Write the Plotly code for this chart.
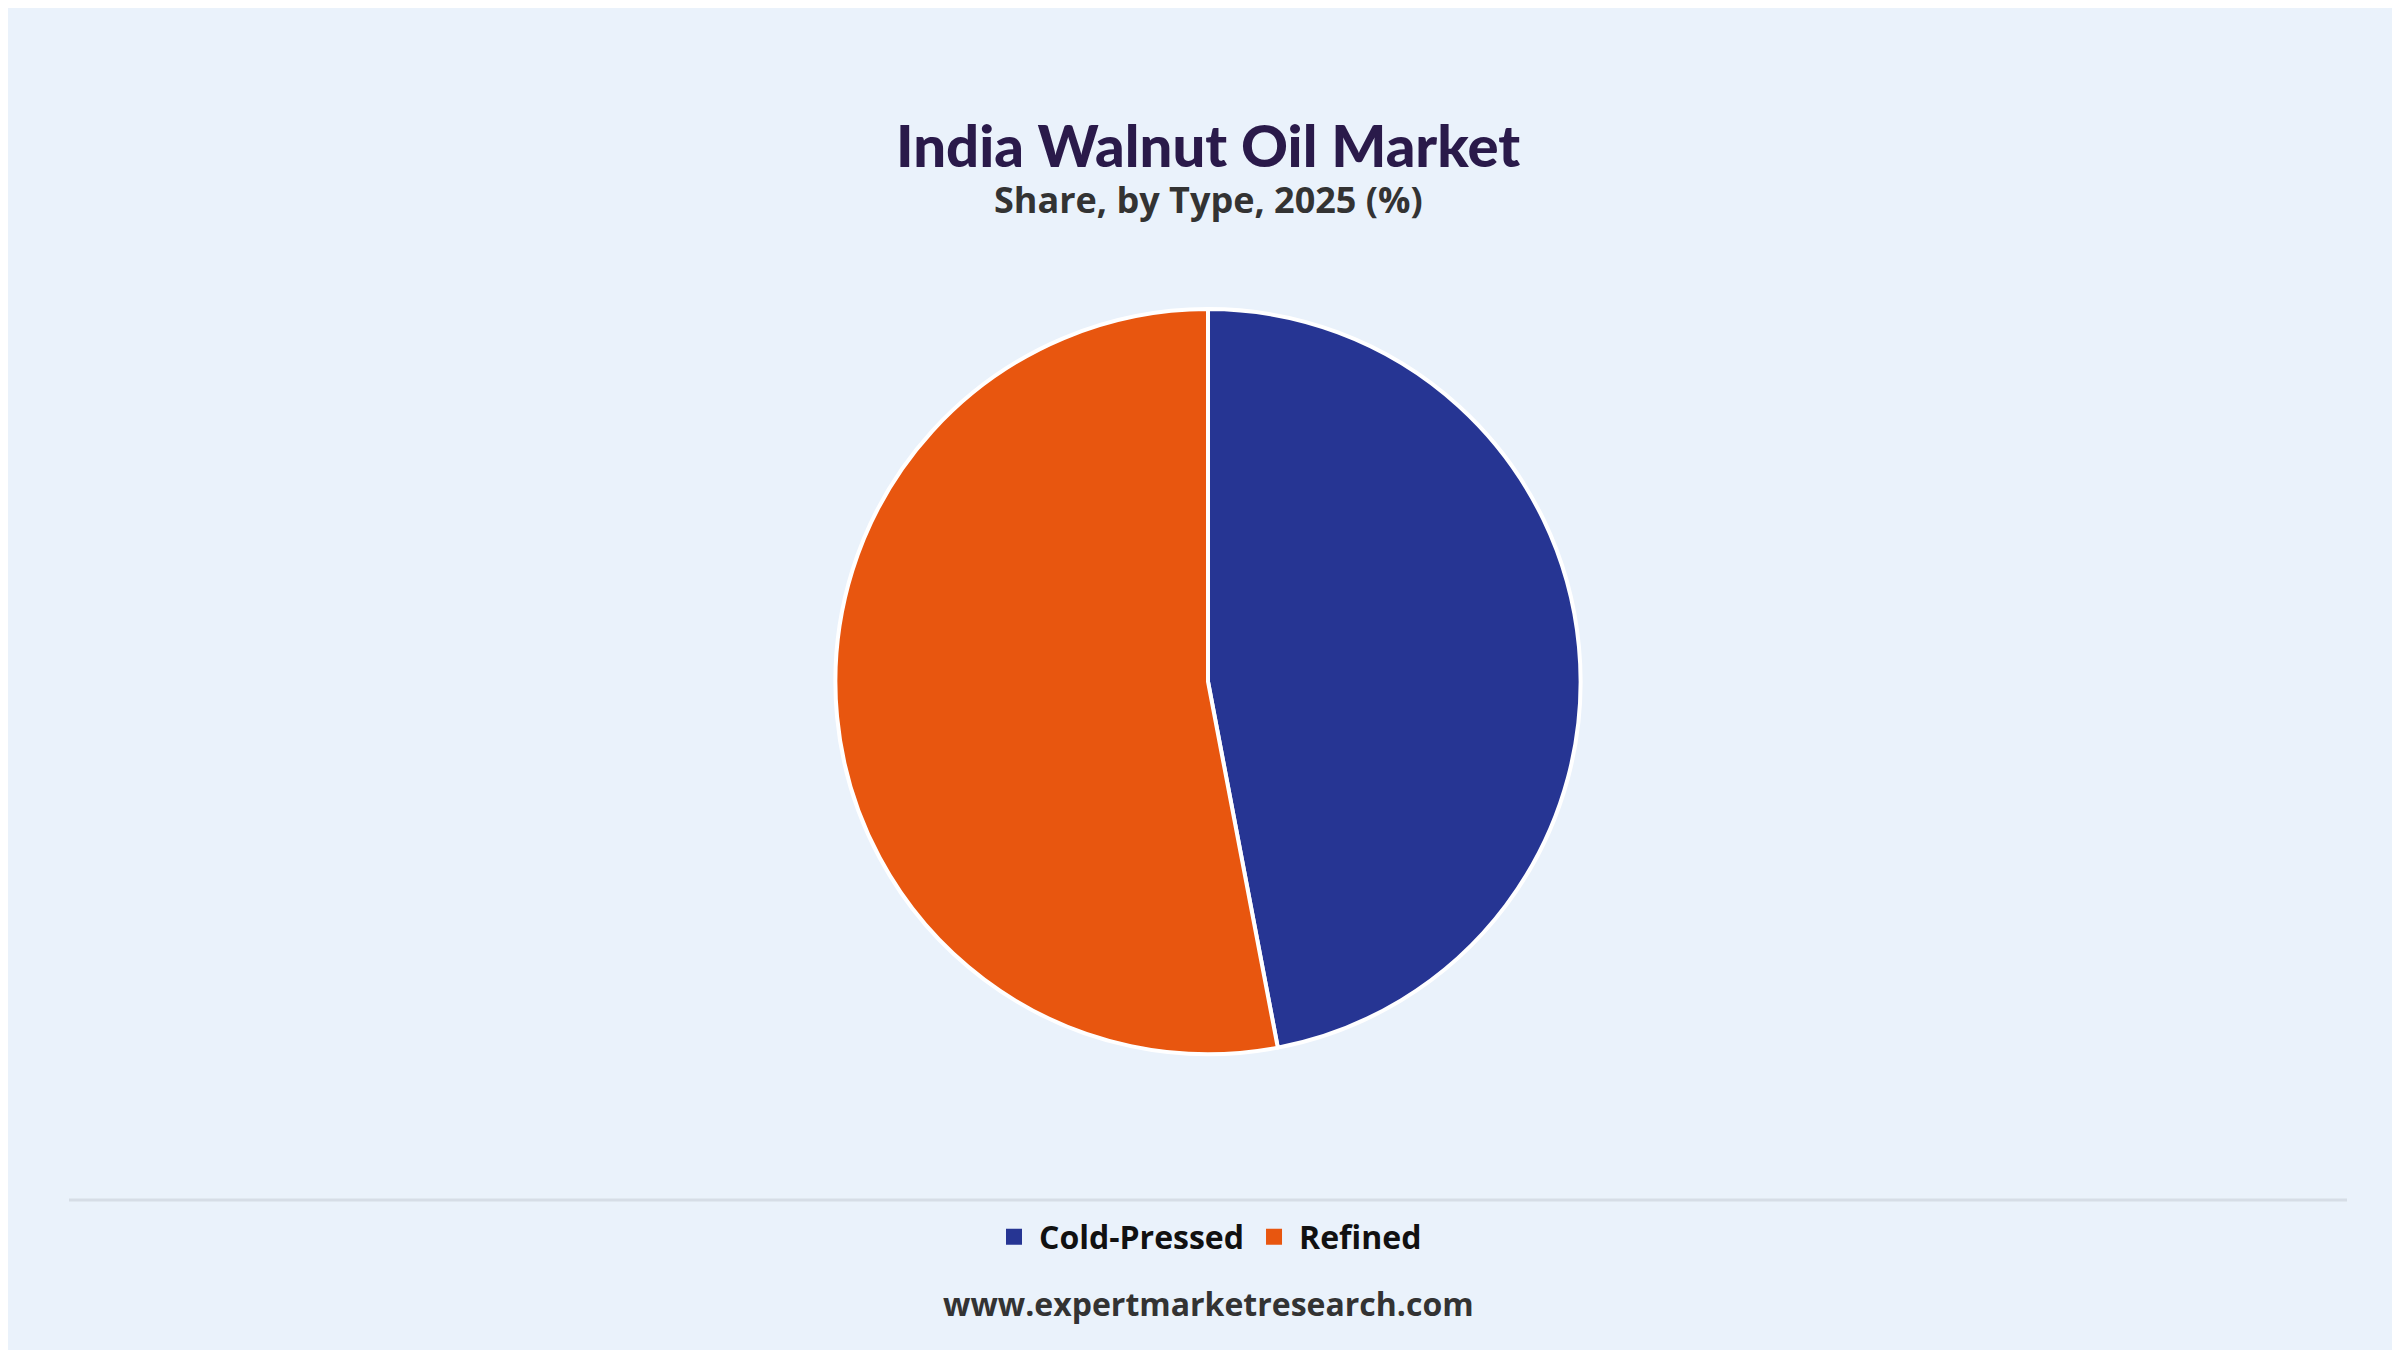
import plotly.graph_objects as go

# Share by type, 2025 (%)
types = ["Cold-Pressed", "Refined"]
shares = [47, 53]
colors = ["#263593", "#e8560f"]

fig = go.Figure(go.Pie(
    labels=types, values=shares,
    marker=dict(colors=colors, line=dict(color="white", width=4)),
    sort=False, direction="clockwise", rotation=0,
    textinfo="none", hoverinfo="label+percent",
    showlegend=False,
    domain=dict(x=[0, 1], y=[0.225, 0.777]),
))

# legend entries with larger square swatches
for name, col in zip(types, colors):
    fig.add_trace(go.Scatter(
        x=[None], y=[None], mode="markers", name=f"<b>{name}</b>",
        marker=dict(symbol="square", size=30, color=col),
    ))

fig.update_layout(
    width=2400, height=1350,
    paper_bgcolor="#eaf2fb", plot_bgcolor="rgba(0,0,0,0)",
    margin=dict(l=0, r=0, t=0, b=0),
    xaxis=dict(visible=False), yaxis=dict(visible=False),
    showlegend=True,
    legend=dict(orientation="h", x=0.5, xanchor="center", y=1 - 1229 / 1350, yanchor="middle",
                font=dict(family="Open Sans", size=32, color="#111111"),
                bgcolor="rgba(0,0,0,0)", itemwidth=40),
    annotations=[
        dict(text="India Walnut Oil Market", x=0.5, y=1 - 100 / 1350, xref="paper", yref="paper",
             showarrow=False, font=dict(family="Lato", size=58, color="#2a1a4a", weight=900)),
        dict(text="<b>Share, by Type, 2025 (%)</b>", x=0.5, y=1 - 165 / 1350, xref="paper", yref="paper",
             showarrow=False, font=dict(family="Open Sans", size=36, color="#333333")),
        dict(text="<b>www.expertmarketresearch.com</b>", x=0.5, y=1 - 1319 / 1350, xref="paper", yref="paper",
             showarrow=False, font=dict(family="Open Sans", size=32, color="#333333")),
    ],
    shapes=[dict(type="line", xref="paper", yref="paper", x0=61 / 2400, x1=2339 / 2400,
                 y0=1 - 1192 / 1350, y1=1 - 1192 / 1350, line=dict(color="#d6dde6", width=3))],
)

fig.write_html("out.html")
